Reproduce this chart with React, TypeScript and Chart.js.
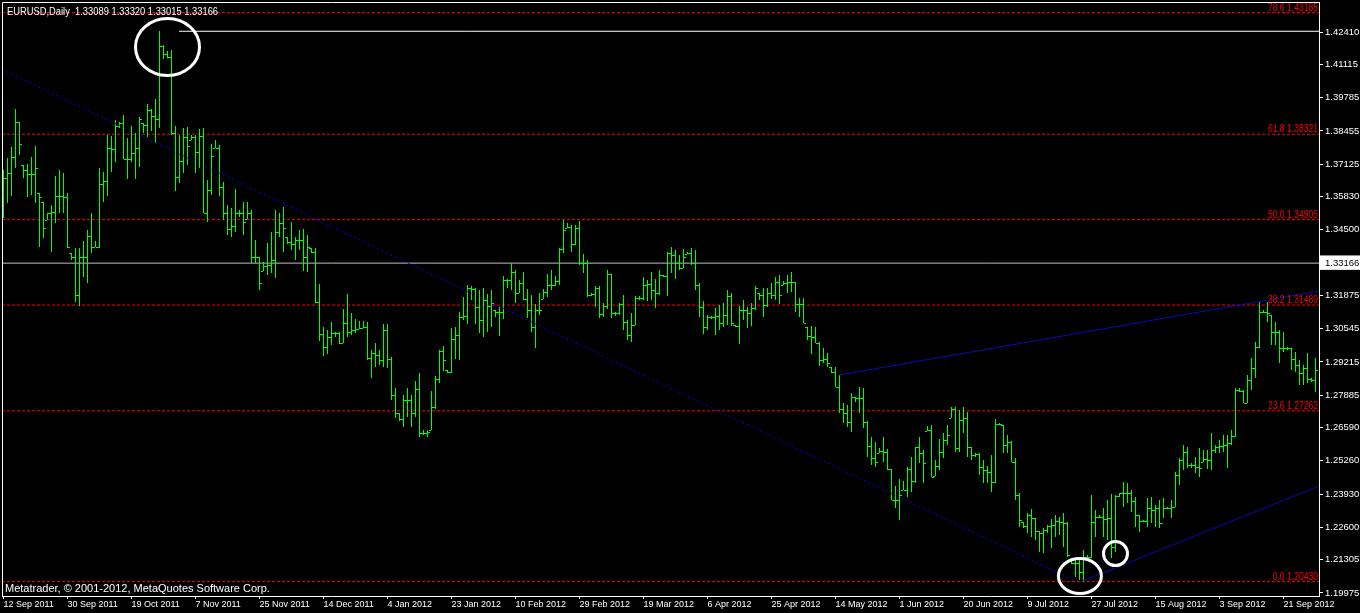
import React, { useEffect, useRef } from 'react';
import { Chart, registerables } from 'chart.js';

Chart.register(...registerables);

// ---------- texts ----------
const chartTitle = 'EURUSD,Daily  1.33089 1.33320 1.33015 1.33166';
const copyrightText = 'Metatrader, \u00A9 2001-2012, MetaQuotes Software Corp.';

// ---------- axis labels ----------
const dateLabels = [
  '12 Sep 2011', '30 Sep 2011', '19 Oct 2011', '7 Nov 2011', '25 Nov 2011', '14 Dec 2011',
  '4 Jan 2012', '23 Jan 2012', '10 Feb 2012', '29 Feb 2012', '19 Mar 2012', '6 Apr 2012',
  '25 Apr 2012', '14 May 2012', '1 Jun 2012', '20 Jun 2012', '9 Jul 2012', '27 Jul 2012',
  '15 Aug 2012', '3 Sep 2012', '21 Sep 2012',
];
const dateLabelStep = 16; // bars between date labels

const priceTicks = [
  1.42410, 1.41115, 1.39785, 1.38455, 1.37125, 1.35830, 1.34500, 1.33166, 1.31875,
  1.30545, 1.29215, 1.27885, 1.26590, 1.25260, 1.23930, 1.22600, 1.21305, 1.19975,
];
const bidPrice = 1.33166;

// ---------- Fibonacci levels ----------
const fibLevels = [78.6, 61.8, 50.0, 38.2, 23.6, 0.0];
const fibPrices = [1.43185, 1.38321, 1.34905, 1.31489, 1.27262, 1.20430];

// ---------- daily OHLC bars (EURUSD) ----------
const barOpen = [
  1.3649,1.3657,1.3677,1.3741,1.3881,1.3709,1.3689,1.3673,1.3673,1.3597,
  1.3561,1.3489,1.3517,1.3521,1.3585,1.3585,1.3581,1.3357,1.3341,1.3189,
  1.3341,1.3341,1.3425,1.3381,1.3381,1.3633,1.3645,1.3777,1.3773,1.3865,
  1.3877,1.3733,1.3733,1.3757,1.3777,1.3877,1.3869,1.3929,1.3905,1.3893,
  1.4185,1.4153,1.4141,1.3837,1.3661,1.3725,1.3821,1.3809,1.3821,1.3761,
  1.3825,1.3517,1.3609,1.3777,1.3777,1.3621,1.3517,1.3453,1.3465,1.3517,
  1.3517,1.3493,1.3517,1.3341,1.3341,1.3285,1.3305,1.3309,1.3329,1.3441,
  1.3477,1.3421,1.3401,1.3393,1.3409,1.3409,1.3341,1.3377,1.3361,1.3161,
  1.3033,1.2981,1.3021,1.3037,1.3037,1.2997,1.3077,1.3041,1.3049,1.3053,
  1.3057,1.3061,1.2937,1.2957,1.2949,1.2929,1.3049,1.2933,1.2789,1.2717,
  1.2693,1.2769,1.2769,1.2717,1.2813,1.2637,1.2637,1.2649,1.2741,1.2853,
  1.2965,1.2889,1.2881,1.3013,1.3029,1.3101,1.3105,1.3217,1.3213,1.3141,
  1.3089,1.3169,1.3145,1.3129,1.3121,1.3121,1.3249,1.3249,1.3281,1.3197,
  1.3237,1.3173,1.3129,1.3061,1.3129,1.3173,1.3201,1.3229,1.3229,1.3245,
  1.3373,1.3457,1.3461,1.3393,1.3457,1.3317,1.3317,1.3189,1.3193,1.3217,
  1.3113,1.3145,1.3273,1.3117,1.3117,1.3153,1.3081,1.3029,1.3069,1.3177,
  1.3177,1.3229,1.3233,1.3209,1.3197,1.3269,1.3265,1.3357,1.3349,1.3317,
  1.3297,1.3353,1.3357,1.3317,1.3229,1.3141,1.3061,1.3101,1.3101,1.3105,
  1.3077,1.3109,1.3185,1.3069,1.3065,1.3129,1.3129,1.3117,1.3137,1.3197,
  1.3189,1.3149,1.3197,1.3189,1.3241,1.3229,1.3237,1.3241,1.3241,1.3153,
  1.3153,1.3061,1.3025,1.3021,1.2997,1.2929,1.2933,1.2901,1.2881,1.2821,
  1.2733,1.2717,1.2681,1.2781,1.2777,1.2777,1.2681,1.2585,1.2537,1.2557,
  1.2565,1.2561,1.2493,1.2369,1.2369,1.2409,1.2409,1.2493,1.2445,1.2581,
  1.2557,1.2645,1.2649,1.2465,1.2505,1.2561,1.2609,1.2697,1.2733,1.2577,
  1.2689,1.2697,1.2581,1.2549,1.2553,1.2501,1.2489,1.2481,1.2441,1.2673,
  1.2669,1.2589,1.2601,1.2521,1.2389,1.2281,1.2265,1.2309,1.2297,1.2245,
  1.2237,1.2249,1.2265,1.2269,1.2285,1.2281,1.2277,1.2129,1.2117,1.2117,
  1.2081,1.2141,1.2141,1.2281,1.2301,1.2301,1.2293,1.2297,1.2181,1.2385,
  1.2397,1.2397,1.2397,1.2365,1.2309,1.2285,1.2285,1.2337,1.2329,1.2337,
  1.2277,1.2337,1.2337,1.2341,1.2469,1.2529,1.2561,1.2509,1.2509,1.2501,
  1.2521,1.2533,1.2529,1.2569,1.2581,1.2585,1.2589,1.2597,1.2625,1.2809,
  1.2805,1.2757,1.2849,1.2897,1.2981,1.3121,1.3121,1.3109,1.3041,1.3041,
  1.2977,1.2977,1.2977,1.2933,1.2909,1.2877,1.2897,1.2853,1.2849,
];
const barHigh = [
  1.3689,1.3737,1.3781,1.3933,1.3881,1.3709,1.3713,1.3741,1.3785,1.3597,
  1.3561,1.3517,1.3549,1.3665,1.3689,1.3677,1.3597,1.3357,1.3377,1.3377,
  1.3405,1.3449,1.3517,1.3405,1.3697,1.3681,1.3829,1.3825,1.3889,1.3881,
  1.3909,1.3817,1.3865,1.3837,1.3901,1.3877,1.3953,1.3933,1.3973,1.4245,
  1.4189,1.4165,1.4169,1.3865,1.3829,1.3857,1.3861,1.3829,1.3829,1.3853,
  1.3857,1.3649,1.3793,1.3809,1.3789,1.3641,1.3549,1.3537,1.3613,1.3529,
  1.3561,1.3561,1.3529,1.3409,1.3341,1.3321,1.3397,1.3441,1.3529,1.3517,
  1.3541,1.3421,1.3481,1.3421,1.3449,1.3453,1.3429,1.3377,1.3377,1.3233,
  1.3061,1.3049,1.3081,1.3041,1.3041,1.3133,1.3193,1.3117,1.3093,1.3085,
  1.3085,1.3081,1.2969,1.2997,1.2969,1.3073,1.3073,1.2941,1.2817,1.2717,
  1.2789,1.2817,1.2789,1.2845,1.2877,1.2649,1.2649,1.2805,1.2865,1.2969,
  1.2985,1.2889,1.3057,1.3061,1.3121,1.3181,1.3229,1.3225,1.3217,1.3209,
  1.3217,1.3193,1.3209,1.3129,1.3141,1.3265,1.3253,1.3317,1.3289,1.3249,
  1.3281,1.3213,1.3189,1.3153,1.3197,1.3213,1.3273,1.3289,1.3265,1.3377,
  1.3489,1.3477,1.3469,1.3469,1.3485,1.3353,1.3329,1.3197,1.3225,1.3225,
  1.3157,1.3289,1.3273,1.3121,1.3157,1.3189,1.3089,1.3117,1.3185,1.3185,
  1.3261,1.3249,1.3281,1.3253,1.3289,1.3269,1.3361,1.3381,1.3369,1.3349,
  1.3373,1.3361,1.3377,1.3369,1.3237,1.3165,1.3109,1.3105,1.3137,1.3149,
  1.3157,1.3209,1.3197,1.3069,1.3145,1.3169,1.3141,1.3157,1.3225,1.3197,
  1.3217,1.3217,1.3237,1.3261,1.3269,1.3245,1.3269,1.3281,1.3241,1.3177,
  1.3177,1.3061,1.3065,1.3061,1.3001,1.2977,1.2957,1.2901,1.2901,1.2869,
  1.2757,1.2749,1.2797,1.2781,1.2821,1.2817,1.2685,1.2621,1.2601,1.2577,
  1.2621,1.2573,1.2493,1.2425,1.2453,1.2445,1.2501,1.2541,1.2581,1.2621,
  1.2569,1.2665,1.2669,1.2529,1.2613,1.2637,1.2669,1.2741,1.2741,1.2729,
  1.2741,1.2721,1.2581,1.2557,1.2557,1.2529,1.2505,1.2549,1.2693,1.2677,
  1.2669,1.2629,1.2605,1.2537,1.2397,1.2281,1.2317,1.2333,1.2297,1.2245,
  1.2257,1.2269,1.2293,1.2309,1.2301,1.2317,1.2281,1.2129,1.2129,1.2129,
  1.2169,1.2149,1.2389,1.2329,1.2309,1.2337,1.2369,1.2393,1.2389,1.2397,
  1.2441,1.2437,1.2409,1.2381,1.2309,1.2289,1.2377,1.2381,1.2349,1.2369,
  1.2377,1.2341,1.2369,1.2481,1.2537,1.2589,1.2581,1.2517,1.2541,1.2577,
  1.2569,1.2569,1.2637,1.2589,1.2609,1.2629,1.2629,1.2649,1.2817,1.2817,
  1.2809,1.2869,1.2937,1.3001,1.3161,1.3129,1.3161,1.3109,1.3081,1.3049,
  1.3041,1.2981,1.2977,1.2961,1.2929,1.2909,1.2957,1.2857,1.2937,
];
const barLow = [
  1.3497,1.3557,1.3585,1.3697,1.3749,1.3657,1.3581,1.3589,1.3557,1.3381,
  1.3417,1.3489,1.3361,1.3477,1.3517,1.3517,1.3377,1.3329,1.3161,1.3145,
  1.3261,1.3237,1.3357,1.3381,1.3377,1.3561,1.3585,1.3681,1.3721,1.3857,
  1.3733,1.3653,1.3721,1.3653,1.3701,1.3837,1.3821,1.3845,1.3797,1.3857,
  1.4133,1.4137,1.3829,1.3605,1.3637,1.3677,1.3709,1.3809,1.3677,1.3697,
  1.3517,1.3481,1.3589,1.3777,1.3585,1.3489,1.3429,1.3421,1.3441,1.3501,
  1.3429,1.3493,1.3317,1.3317,1.3209,1.3285,1.3269,1.3277,1.3257,1.3421,
  1.3361,1.3393,1.3369,1.3329,1.3369,1.3285,1.3281,1.3357,1.3157,1.3005,
  1.2945,1.2953,1.2989,1.3021,1.2993,1.2997,1.3021,1.3029,1.3037,1.3053,
  1.3057,1.2929,1.2857,1.2901,1.2909,1.2901,1.2897,1.2769,1.2697,1.2685,
  1.2661,1.2701,1.2661,1.2701,1.2621,1.2629,1.2621,1.2649,1.2733,1.2837,
  1.2885,1.2877,1.2877,1.2933,1.2929,1.3089,1.3073,1.3169,1.3073,1.3037,
  1.3021,1.3041,1.3061,1.3101,1.3025,1.3093,1.3217,1.3209,1.3157,1.3197,
  1.3169,1.3097,1.3041,1.2977,1.3109,1.3173,1.3181,1.3209,1.3225,1.3229,
  1.3357,1.3457,1.3361,1.3389,1.3309,1.3277,1.3181,1.3185,1.3141,1.3097,
  1.3101,1.3133,1.3097,1.3105,1.3109,1.3049,1.3009,1.3001,1.3069,1.3169,
  1.3169,1.3165,1.3169,1.3137,1.3189,1.3261,1.3185,1.3277,1.3253,1.3289,
  1.3297,1.3353,1.3309,1.3209,1.3101,1.3033,1.3049,1.3093,1.3029,1.3049,
  1.3061,1.3069,1.3065,1.3061,1.2993,1.3089,1.3057,1.3065,1.3129,1.3169,
  1.3101,1.3141,1.3173,1.3169,1.3153,1.3229,1.3197,1.3201,1.3121,1.3101,
  1.3077,1.3009,1.2953,1.2997,1.2905,1.2917,1.2901,1.2877,1.2821,1.2717,
  1.2677,1.2661,1.2641,1.2761,1.2717,1.2657,1.2541,1.2509,1.2501,1.2557,
  1.2521,1.2489,1.2369,1.2337,1.2289,1.2409,1.2381,1.2401,1.2437,1.2517,
  1.2437,1.2645,1.2461,1.2465,1.2489,1.2537,1.2589,1.2697,1.2561,1.2561,
  1.2637,1.2541,1.2529,1.2541,1.2469,1.2437,1.2437,1.2401,1.2437,1.2669,
  1.2557,1.2557,1.2521,1.2369,1.2261,1.2257,1.2237,1.2221,1.2209,1.2161,
  1.2157,1.2237,1.2177,1.2221,1.2229,1.2181,1.2141,1.2113,1.2061,1.2049,
  1.2041,1.2137,1.2137,1.2221,1.2297,1.2221,1.2209,1.2137,1.2161,1.2381,
  1.2341,1.2357,1.2321,1.2261,1.2241,1.2281,1.2261,1.2277,1.2261,1.2257,
  1.2297,1.2333,1.2297,1.2341,1.2429,1.2489,1.2497,1.2497,1.2477,1.2461,
  1.2521,1.2493,1.2489,1.2557,1.2557,1.2561,1.2497,1.2589,1.2621,1.2801,
  1.2757,1.2757,1.2809,1.2857,1.2977,1.3117,1.3081,1.2989,1.2989,1.2917,
  1.2961,1.2969,1.2889,1.2881,1.2829,1.2829,1.2837,1.2841,1.2801,
];
const barClose = [
  1.3657,1.3677,1.3741,1.3881,1.3793,1.3689,1.3673,1.3673,1.3697,1.3581,
  1.3457,1.3517,1.3521,1.3585,1.3585,1.3581,1.3381,1.3341,1.3189,1.3341,
  1.3341,1.3425,1.3381,1.3381,1.3633,1.3645,1.3777,1.3773,1.3865,1.3877,
  1.3733,1.3733,1.3757,1.3777,1.3893,1.3869,1.3929,1.3905,1.3893,1.4185,
  1.4153,1.4141,1.3837,1.3661,1.3725,1.3821,1.3785,1.3821,1.3761,1.3825,
  1.3517,1.3609,1.3745,1.3777,1.3621,1.3517,1.3453,1.3465,1.3517,1.3517,
  1.3481,1.3517,1.3341,1.3341,1.3237,1.3305,1.3309,1.3329,1.3441,1.3477,
  1.3457,1.3401,1.3393,1.3409,1.3409,1.3341,1.3381,1.3361,1.3161,1.3033,
  1.2981,1.3021,1.3037,1.3037,1.2997,1.3077,1.3041,1.3049,1.3053,1.3057,
  1.3061,1.2937,1.2957,1.2949,1.2929,1.3049,1.2933,1.2789,1.2717,1.2693,
  1.2769,1.2769,1.2717,1.2813,1.2637,1.2637,1.2641,1.2741,1.2853,1.2965,
  1.2929,1.2881,1.3013,1.3029,1.3101,1.3105,1.3217,1.3213,1.3141,1.3089,
  1.3169,1.3145,1.3157,1.3121,1.3121,1.3249,1.3249,1.3281,1.3197,1.3237,
  1.3173,1.3129,1.3061,1.3129,1.3129,1.3201,1.3229,1.3229,1.3245,1.3373,
  1.3449,1.3461,1.3393,1.3457,1.3317,1.3317,1.3189,1.3193,1.3217,1.3113,
  1.3145,1.3273,1.3117,1.3117,1.3153,1.3081,1.3029,1.3069,1.3177,1.3177,
  1.3229,1.3233,1.3209,1.3197,1.3269,1.3265,1.3357,1.3349,1.3317,1.3297,
  1.3341,1.3357,1.3317,1.3229,1.3141,1.3061,1.3101,1.3101,1.3105,1.3077,
  1.3109,1.3185,1.3077,1.3065,1.3129,1.3129,1.3117,1.3137,1.3217,1.3189,
  1.3149,1.3197,1.3189,1.3241,1.3189,1.3237,1.3241,1.3241,1.3153,1.3153,
  1.3077,1.3025,1.3021,1.2997,1.2929,1.2933,1.2917,1.2881,1.2821,1.2733,
  1.2717,1.2681,1.2781,1.2777,1.2777,1.2681,1.2585,1.2537,1.2521,1.2565,
  1.2561,1.2493,1.2369,1.2369,1.2389,1.2409,1.2493,1.2445,1.2581,1.2557,
  1.2517,1.2649,1.2461,1.2505,1.2561,1.2609,1.2629,1.2733,1.2577,1.2689,
  1.2697,1.2581,1.2549,1.2553,1.2501,1.2489,1.2481,1.2441,1.2673,1.2673,
  1.2589,1.2601,1.2521,1.2389,1.2289,1.2265,1.2309,1.2297,1.2245,1.2237,
  1.2249,1.2265,1.2269,1.2285,1.2281,1.2277,1.2149,1.2117,1.2117,1.2081,
  1.2141,1.2141,1.2281,1.2301,1.2301,1.2293,1.2297,1.2181,1.2385,1.2397,
  1.2397,1.2397,1.2365,1.2309,1.2285,1.2285,1.2337,1.2329,1.2337,1.2277,
  1.2337,1.2337,1.2341,1.2469,1.2529,1.2561,1.2509,1.2509,1.2501,1.2497,
  1.2533,1.2529,1.2569,1.2581,1.2585,1.2589,1.2597,1.2625,1.2809,1.2805,
  1.2757,1.2849,1.2897,1.2981,1.3121,1.3121,1.3117,1.3041,1.3041,1.2977,
  1.2977,1.2977,1.2933,1.2909,1.2877,1.2897,1.2853,1.2849,1.2889,
];

// ---------- drawn objects (bar index, price) ----------
const highLine = { fromBar: 43.9, price: 1.4244 };
const downTrend = [{ bar: -0.375, price: 1.4091 }, { bar: 268, price: 1.2045 }];
const upperChannel = [{ bar: 208.9, price: 1.2869 }, { bar: 328.875, price: 1.3205 }];
const lowerChannel = [{ bar: 269.1, price: 1.2041 }, { bar: 328.875, price: 1.2425 }];
const circleMarks = [
  { bar: 41.0, price: 1.4181, rx: 32, ry: 28.5 },
  { bar: 269.1, price: 1.2065, rx: 21.5, ry: 17.5 },
  { bar: 278.0, price: 1.2155, rx: 12, ry: 12 },
];

// ---------- layout / style ----------
const barMin = -0.375;
const barMax = 328.875;
const priceMin = 1.19855;
const priceMax = 1.4361;
const uiFont = "'Liberation Sans', Arial, sans-serif";
const barColor = '#00ff00';
const fibColor = '#ff0000';

function narrowText(ctx: any, text: string, x: number, y: number, size: number, sx: number, align: string) {
  ctx.save();
  ctx.translate(x, y);
  ctx.scale(sx, 1);
  ctx.font = `${size}px ${uiFont}`;
  ctx.textAlign = align;
  ctx.textBaseline = 'alphabetic';
  ctx.fillText(text, 0, 0);
  ctx.restore();
}

const overlayPlugin = {
  id: 'mtOverlay',
  beforeDraw(chart: any) {
    const { ctx, width, height } = chart;
    ctx.save();
    ctx.fillStyle = '#000000';
    ctx.fillRect(0, 0, width, height);
    ctx.restore();
  },
  afterDatasetsDraw(chart: any) {
    // open (left) and close (right) ticks of every OHLC bar
    const { ctx, chartArea: a, scales } = chart;
    const xs = scales.x;
    const ys = scales.y;
    ctx.save();
    ctx.beginPath();
    ctx.rect(a.left, a.top, a.right - a.left, a.bottom - a.top);
    ctx.clip();
    ctx.fillStyle = barColor;
    for (let i = 0; i < barOpen.length; i++) {
      const px = Math.round(xs.getPixelForValue(i) - 0.5);
      const yo = Math.round(ys.getPixelForValue(barOpen[i]) - 0.5);
      const yc = Math.round(ys.getPixelForValue(barClose[i]) - 0.5);
      ctx.fillRect(px - 2, yo, 2, 1);
      ctx.fillRect(px + 1, yc, 2, 1);
    }
    ctx.restore();
  },
  afterDraw(chart: any) {
    const { ctx, chartArea: a, scales } = chart;
    const xs = scales.x;
    const ys = scales.y;
    ctx.save();
    // left & top frame
    ctx.strokeStyle = '#ffffff';
    ctx.lineWidth = 1;
    ctx.beginPath();
    ctx.moveTo(a.left + 0.5, a.bottom);
    ctx.lineTo(a.left + 0.5, a.top + 0.5);
    ctx.lineTo(a.right, a.top + 0.5);
    ctx.stroke();
    // circles
    ctx.lineWidth = 3;
    circleMarks.forEach((m) => {
      ctx.beginPath();
      ctx.ellipse(xs.getPixelForValue(m.bar), ys.getPixelForValue(m.price), m.rx, m.ry, 0, 0, Math.PI * 2);
      ctx.stroke();
    });
    // fib labels
    ctx.fillStyle = fibColor;
    fibLevels.forEach((lv, k) => {
      narrowText(ctx, `${lv.toFixed(1)} ${fibPrices[k].toFixed(5)}`, a.right - 1, ys.getPixelForValue(fibPrices[k]) - 2, 11, 0.78, 'right');
    });
    // title and copyright
    ctx.fillStyle = '#ffffff';
    narrowText(ctx, chartTitle, 7, 15, 11, 0.85, 'left');
    narrowText(ctx, copyrightText, 5, 592, 11, 1, 'left');
    ctx.restore();
  },
};

function lineDataset(points: { bar: number; price: number }[], color: string, dash: number[], order: number) {
  return {
    type: 'line',
    data: points.map((p) => ({ x: p.bar, y: p.price })),
    borderColor: color,
    borderWidth: 1,
    borderDash: dash,
    pointRadius: 0,
    pointHoverRadius: 0,
    fill: false,
    tension: 0,
    order,
  };
}

export default function App() {
  const canvasRef = useRef<HTMLCanvasElement | null>(null);

  useEffect(() => {
    document.body.style.margin = '0';
    document.body.style.background = '#000';
    const canvas = canvasRef.current;
    if (!canvas) return;

    const rangeData = barHigh.map((h, i) => ({ x: i, y: [barLow[i], h] }));

    const fibSets = fibPrices.map((p) =>
      lineDataset([{ bar: barMin, price: p }, { bar: barMax, price: p }], fibColor, [3, 2], 10)
    );

    const chart = new Chart(canvas, {
      type: 'bar',
      data: {
        datasets: [
          ...fibSets,
          lineDataset([{ bar: barMin, price: bidPrice }, { bar: barMax, price: bidPrice }], '#c0c0c0', [], 9),
          {
            type: 'bar',
            data: rangeData,
            backgroundColor: barColor,
            borderWidth: 0,
            barThickness: 1,
            maxBarThickness: 1,
            inflateAmount: 0,
            order: 5,
          },
          lineDataset(downTrend, '#0000ff', [2, 3], 2),
          lineDataset(upperChannel, '#0a0ab4', [], 2),
          lineDataset(lowerChannel, '#0a0ab4', [], 2),
          lineDataset([{ bar: highLine.fromBar, price: highLine.price }, { bar: barMax, price: highLine.price }], '#ffffff', [], 1),
        ] as any,
      },
      options: {
        responsive: false,
        devicePixelRatio: 1,
        animation: false,
        events: [],
        layout: { padding: { left: 2, top: 2, right: 0, bottom: 0 } },
        plugins: { legend: { display: false }, tooltip: { enabled: false } },
        scales: {
          x: {
            type: 'linear',
            position: 'bottom',
            min: barMin,
            max: barMax,
            bounds: 'data',
            offset: false,
            grid: { display: true, drawOnChartArea: false, drawTicks: true, tickLength: 3, color: '#ffffff', tickColor: '#ffffff', offset: false },
            border: { display: true, color: '#ffffff', width: 1 },
            ticks: {
              autoSkip: false,
              maxRotation: 0,
              minRotation: 0,
              align: 'start',
              padding: 0,
              color: '#ffffff',
              font: { family: uiFont, size: 9 },
              callback: (v: any) => {
                const k = Math.round(Number(v) / dateLabelStep);
                return dateLabels[k] ?? '';
              },
            },
            afterBuildTicks: (s: any) => {
              s.ticks = dateLabels.map((_, k) => ({ value: k * dateLabelStep }));
            },
            afterFit: (s: any) => {
              s.height = 17;
              s.paddingLeft = 0;
              s.paddingRight = 0;
            },
          },
          y: {
            type: 'linear',
            position: 'right',
            min: priceMin,
            max: priceMax,
            bounds: 'data',
            beginAtZero: false,
            grid: { display: true, drawOnChartArea: false, drawTicks: true, tickLength: 4, color: '#ffffff', tickColor: '#ffffff' },
            border: { display: true, color: '#ffffff', width: 1 },
            ticks: {
              autoSkip: false,
              padding: 2,
              font: { family: uiFont, size: 9.5 },
              color: (ctx: any) => (ctx.tick && ctx.tick.value === bidPrice ? '#000000' : '#ffffff'),
              showLabelBackdrop: (ctx: any) => !!(ctx.tick && ctx.tick.value === bidPrice),
              backdropColor: '#ffffff',
              backdropPadding: { left: 5, right: 4, top: 2, bottom: 1 },
              callback: (v: any) => Number(v).toFixed(5),
            },
            afterBuildTicks: (s: any) => {
              s.ticks = priceTicks.map((v) => ({ value: v }));
            },
            afterFit: (s: any) => {
              s.width = 41;
              s.paddingTop = 0;
              s.paddingBottom = 0;
            },
          },
        },
      } as any,
      plugins: [overlayPlugin],
    });

    return () => chart.destroy();
  }, []);

  return (
    <div style={{ width: 1360, height: 613, background: '#000' }}>
      <canvas ref={canvasRef} width={1360} height={613} style={{ display: 'block' }} />
    </div>
  );
}
